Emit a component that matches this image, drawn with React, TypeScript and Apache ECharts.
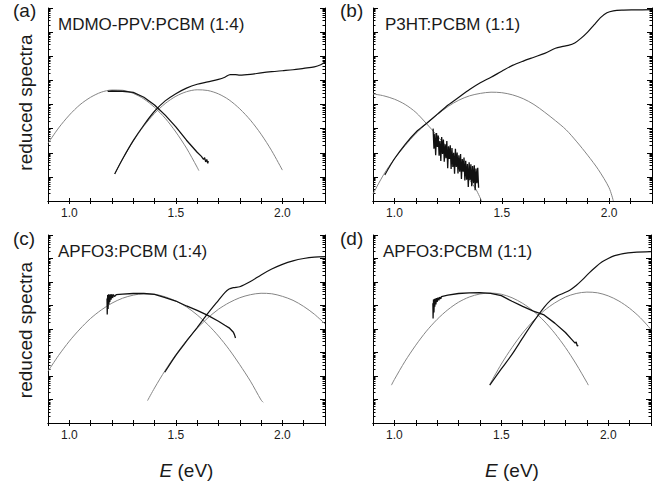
import React, { useEffect, useRef } from "react";
import * as echarts from "echarts";

// ---------- axis tick values ----------
const xTickValues = [0.9, 1.0, 1.1, 1.2, 1.3, 1.4, 1.5, 1.6, 1.7, 1.8, 1.9, 2.0, 2.1, 2.2];
const xLabelValues = [1.0, 1.5, 2.0];
const decadeValues = [0, 1, 2, 3, 4, 5, 6, 7, 8];

// ---------- data: [E (eV), log10(reduced spectrum)] ----------
// (a) MDMO-PPV:PCBM (1:4)
const aGrayL = [[0.9, 2.39], [0.95, 3.03], [1.0, 3.56], [1.05, 3.99], [1.1, 4.3], [1.15, 4.51], [1.2, 4.6], [1.25, 4.59], [1.3, 4.46], [1.35, 4.23], [1.4, 3.88], [1.45, 3.43], [1.5, 2.86], [1.55, 2.19], [1.6, 1.4], [1.608, 1.26]];
const aGrayR = [[1.213, 1.12], [1.25, 1.74], [1.3, 2.48], [1.35, 3.11], [1.4, 3.63], [1.45, 4.04], [1.5, 4.34], [1.55, 4.53], [1.6, 4.61], [1.65, 4.58], [1.7, 4.44], [1.75, 4.19], [1.8, 3.82], [1.85, 3.35], [1.9, 2.77], [1.95, 2.08], [2.0, 1.28]];
const aAbs = [[1.213, 1.12], [1.25, 1.74], [1.3, 2.5], [1.35, 3.15], [1.4, 3.72], [1.45, 4.15], [1.5, 4.45], [1.55, 4.68], [1.6, 4.84], [1.65, 4.94], [1.7, 5.04], [1.73, 5.13], [1.755, 5.24], [1.78, 5.24], [1.8, 5.22], [1.85, 5.25], [1.9, 5.31], [1.95, 5.36], [2.0, 5.4], [2.05, 5.44], [2.1, 5.5], [2.15, 5.56], [2.18, 5.65], [2.2, 5.76]];
const aPL = [[1.18, 4.54], [1.2, 4.56], [1.25, 4.55], [1.3, 4.5], [1.35, 4.3], [1.4, 3.98], [1.45, 3.56], [1.5, 3.07], [1.55, 2.52], [1.6, 2.02], [1.62, 1.85], [1.63, 1.72], [1.635, 1.8], [1.64, 1.62], [1.645, 1.72], [1.65, 1.56], [1.652, 1.66]];

// (b) P3HT:PCBM (1:1)
const bGrayL = [[0.9, 4.44], [0.95, 4.36], [1.0, 4.22], [1.05, 4.0], [1.1, 3.67], [1.15, 3.2], [1.2, 2.7], [1.25, 2.17], [1.3, 1.55], [1.35, 0.88], [1.38, 0.48], [1.406, 0.0]];
const bGrayR = [[0.9, 0.29], [0.95, 1.1], [1.0, 1.75], [1.05, 2.3], [1.1, 2.8], [1.15, 3.21], [1.2, 3.58], [1.25, 3.92], [1.3, 4.18], [1.35, 4.36], [1.4, 4.46], [1.45, 4.51], [1.5, 4.49], [1.55, 4.4], [1.6, 4.24], [1.65, 4.0], [1.7, 3.68], [1.75, 3.33], [1.8, 2.95], [1.85, 2.45], [1.9, 1.9], [1.95, 1.3], [2.0, 0.55], [2.02, 0.0]];
const bAbs = [[0.955, 1.08], [1.0, 1.75], [1.05, 2.35], [1.1, 2.85], [1.15, 3.22], [1.2, 3.6], [1.25, 3.98], [1.3, 4.3], [1.35, 4.62], [1.4, 4.9], [1.45, 5.13], [1.5, 5.38], [1.55, 5.62], [1.6, 5.8], [1.65, 5.96], [1.7, 6.12], [1.75, 6.33], [1.78, 6.4], [1.81, 6.45], [1.84, 6.55], [1.87, 6.75], [1.9, 7.0], [1.93, 7.3], [1.96, 7.6], [1.99, 7.8], [2.02, 7.88], [2.06, 7.91], [2.12, 7.92], [2.2, 7.93]];
const bPL = [[1.18, 3.0], [1.184, 2.17], [1.188, 2.79], [1.192, 1.9], [1.196, 2.82], [1.2, 2.24], [1.204, 2.71], [1.208, 1.88], [1.212, 2.49], [1.216, 1.66], [1.22, 2.65], [1.224, 1.95], [1.228, 2.55], [1.232, 1.63], [1.236, 2.35], [1.24, 1.77], [1.244, 2.49], [1.248, 1.36], [1.252, 2.27], [1.256, 1.74], [1.26, 2.31], [1.264, 1.33], [1.268, 2.2], [1.272, 1.41], [1.276, 2.0], [1.28, 1.13], [1.284, 2.16], [1.288, 1.41], [1.292, 2.01], [1.296, 1.14], [1.3, 1.89], [1.304, 1.21], [1.308, 1.95], [1.312, 0.91], [1.316, 1.74], [1.32, 1.21], [1.324, 1.8], [1.328, 0.85], [1.332, 1.67], [1.336, 0.88], [1.34, 1.53], [1.344, 0.58], [1.348, 1.61], [1.352, 0.87], [1.356, 1.52], [1.36, 0.61], [1.364, 1.45], [1.368, 0.74], [1.372, 1.48], [1.376, 0.45], [1.38, 1.35], [1.384, 0.74], [1.388, 1.38], [1.392, 0.55]];

// (c) APFO3:PCBM (1:4)
const cGrayL = [[0.9, 2.2], [0.95, 2.88], [1.0, 3.48], [1.05, 4.0], [1.1, 4.45], [1.15, 4.81], [1.2, 5.1], [1.25, 5.31], [1.3, 5.44], [1.35, 5.5], [1.4, 5.48], [1.45, 5.37], [1.5, 5.19], [1.55, 4.94], [1.6, 4.6], [1.65, 4.19], [1.7, 3.7], [1.75, 3.13], [1.8, 2.48], [1.85, 1.78], [1.9, 0.98], [1.91, 0.88]];
const cGrayR = [[1.367, 0.95], [1.4, 1.49], [1.45, 2.24], [1.5, 2.91], [1.55, 3.51], [1.6, 4.03], [1.65, 4.47], [1.7, 4.84], [1.75, 5.12], [1.8, 5.33], [1.85, 5.46], [1.9, 5.52], [1.95, 5.5], [2.0, 5.39], [2.05, 5.22], [2.1, 4.96], [2.15, 4.63], [2.2, 4.22]];
const cAbs = [[1.448, 2.16], [1.5, 2.88], [1.55, 3.48], [1.6, 4.06], [1.65, 4.66], [1.7, 5.22], [1.73, 5.55], [1.75, 5.7], [1.77, 5.76], [1.8, 5.8], [1.85, 6.02], [1.9, 6.3], [1.95, 6.55], [2.0, 6.75], [2.05, 6.9], [2.1, 7.0], [2.15, 7.06], [2.2, 7.08]];
const cPL = [[1.177, 5.3], [1.178, 4.62], [1.18, 5.45], [1.182, 4.85], [1.184, 5.48], [1.186, 5.05], [1.188, 5.47], [1.19, 5.15], [1.193, 5.48], [1.196, 5.25], [1.199, 5.48], [1.203, 5.32], [1.207, 5.47], [1.212, 5.38], [1.22, 5.46], [1.25, 5.48], [1.3, 5.51], [1.35, 5.51], [1.4, 5.47], [1.45, 5.34], [1.5, 5.19], [1.55, 4.98], [1.6, 4.79], [1.65, 4.58], [1.7, 4.33], [1.73, 4.16], [1.75, 4.05], [1.76, 3.96], [1.77, 3.86], [1.775, 3.76], [1.78, 3.62]];

// (d) APFO3:PCBM (1:1)
const dGrayL = [[0.986, 1.61], [1.0, 1.85], [1.05, 2.63], [1.1, 3.31], [1.15, 3.91], [1.2, 4.41], [1.25, 4.82], [1.3, 5.14], [1.35, 5.36], [1.4, 5.49], [1.45, 5.53], [1.5, 5.48], [1.55, 5.33], [1.6, 5.09], [1.65, 4.76], [1.7, 4.34], [1.75, 3.82], [1.8, 3.21], [1.85, 2.51], [1.9, 1.73], [1.907, 1.61]];
const dGrayR = [[1.446, 1.64], [1.5, 2.51], [1.55, 3.21], [1.6, 3.83], [1.65, 4.35], [1.7, 4.78], [1.75, 5.11], [1.8, 5.36], [1.85, 5.51], [1.9, 5.57], [1.95, 5.54], [2.0, 5.41], [2.05, 5.19], [2.1, 4.88], [2.15, 4.48], [2.2, 3.98]];
const dAbs = [[1.446, 1.61], [1.5, 2.3], [1.55, 2.92], [1.6, 3.62], [1.65, 4.3], [1.7, 4.92], [1.73, 5.22], [1.76, 5.4], [1.79, 5.52], [1.82, 5.65], [1.85, 5.85], [1.88, 6.1], [1.91, 6.38], [1.94, 6.63], [1.97, 6.85], [2.0, 7.0], [2.03, 7.12], [2.07, 7.21], [2.12, 7.26], [2.2, 7.29]];
const dPL = [[1.18, 5.1], [1.181, 4.45], [1.183, 5.25], [1.185, 4.7], [1.187, 5.28], [1.189, 4.95], [1.191, 5.3], [1.194, 5.05], [1.197, 5.32], [1.2, 5.15], [1.204, 5.34], [1.208, 5.22], [1.212, 5.36], [1.217, 5.28], [1.22, 5.38], [1.25, 5.44], [1.3, 5.51], [1.35, 5.54], [1.4, 5.55], [1.45, 5.52], [1.5, 5.42], [1.55, 5.18], [1.6, 4.96], [1.65, 4.76], [1.7, 4.6], [1.75, 4.25], [1.8, 3.85], [1.83, 3.55], [1.845, 3.4], [1.85, 3.45], [1.855, 3.28], [1.86, 3.3]];

const FONT = "'Liberation Sans', Arial, Helvetica, sans-serif";
const BLACK = "#111111";
const GRAY = "#858585";

const panels = [
  { grid: { left: 48, top: 8, width: 277, height: 193 }, letter: "(a)", letterPos: [13, 10], title: "MDMO-PPV:PCBM (1:4)", titlePos: [58, 24], yLabel: true, xName: false, grayL: aGrayL, grayR: aGrayR, abs: aAbs, pl: aPL },
  { grid: { left: 373, top: 8, width: 279, height: 193 }, letter: "(b)", letterPos: [340, 10], title: "P3HT:PCBM (1:1)", titlePos: [385, 24], yLabel: false, xName: false, grayL: bGrayL, grayR: bGrayR, abs: bAbs, pl: bPL },
  { grid: { left: 48, top: 235, width: 277, height: 194 }, letter: "(c)", letterPos: [13, 238], title: "APFO3:PCBM (1:4)", titlePos: [58, 251], yLabel: true, xName: true, grayL: cGrayL, grayR: cGrayR, abs: cAbs, pl: cPL },
  { grid: { left: 373, top: 235, width: 278, height: 194 }, letter: "(d)", letterPos: [340, 238], title: "APFO3:PCBM (1:1)", titlePos: [383, 251], yLabel: false, xName: true, grayL: dGrayL, grayR: dGrayR, abs: dAbs, pl: dPL },
];

const toData = (arr: number[][]) => arr.map(([e, lg]) => [e, Math.pow(10, lg)]);

function buildOption() {
  const minorValues: number[] = [];
  for (let n = 0; n < 8; n++) for (let k = 2; k <= 9; k++) minorValues.push(n + Math.log10(k));

  const grid: any[] = [];
  const xAxis: any[] = [];
  const yAxis: any[] = [];
  const series: any[] = [];
  const graphic: any[] = [];
  const lineStyle = { color: "#000", width: 1 };

  panels.forEach((p, i) => {
    grid.push({ ...p.grid });
    xAxis.push({
      type: "value", gridIndex: i, position: "bottom", min: 0.9, max: 2.2,
      axisLine: { show: true, lineStyle },
      axisTick: { show: true, inside: true, length: 3, customValues: xTickValues, lineStyle },
      axisLabel: { show: true, customValues: xLabelValues, margin: 6, fontSize: 12, fontFamily: FONT, color: "#1a1a1a", formatter: (v: number) => v.toFixed(1) },
      splitLine: { show: false },
      name: p.xName ? "{i|E} (eV)" : "",
      nameLocation: "middle", nameGap: 38,
      nameTextStyle: { fontSize: 19, fontFamily: FONT, color: "#1a1a1a", rich: { i: { fontStyle: "italic", fontSize: 19, fontFamily: FONT, color: "#1a1a1a" } } },
    });
    xAxis.push({
      type: "value", gridIndex: i, position: "top", min: 0.9, max: 2.2,
      axisLine: { show: true, lineStyle },
      axisTick: { show: true, inside: true, length: 3, customValues: xTickValues, lineStyle },
      axisLabel: { show: false }, splitLine: { show: false },
    });
    // data log axis
    yAxis.push({ type: "log", logBase: 10, gridIndex: i, min: 1, max: 1e8, show: false });
    // frame / tick overlays in decades
    const tickAxis = (pos: string, vals: number[], len: number, line: boolean) => ({
      type: "value", gridIndex: i, position: pos, min: 0, max: 8,
      axisLine: { show: line, lineStyle },
      axisTick: { show: true, inside: true, length: len, customValues: vals, lineStyle },
      axisLabel: { show: false }, splitLine: { show: false },
    });
    yAxis.push(tickAxis("left", decadeValues, 5, true));
    yAxis.push(tickAxis("left", minorValues, 2.5, false));
    yAxis.push(tickAxis("right", decadeValues, 5, true));
    yAxis.push(tickAxis("right", minorValues, 2.5, false));

    const mk = (data: number[][], color: string, width: number, smooth: number | boolean) => ({
      type: "line", xAxisIndex: 2 * i, yAxisIndex: 5 * i, data: toData(data),
      showSymbol: false, symbol: "none", smooth, lineStyle: { color, width }, silent: true,
    });
    series.push(mk(p.grayL, GRAY, 1, 0.3));
    series.push(mk(p.grayR, GRAY, 1, 0.3));
    series.push(mk(p.abs, BLACK, 1.2, 0.3));
    series.push(mk(p.pl, BLACK, 1.3, false));

    graphic.push({ type: "text", x: p.letterPos[0], y: p.letterPos[1], style: { text: p.letter, fontSize: 19, fontFamily: FONT, fill: "#1a1a1a", align: "left", verticalAlign: "middle", textAlign: "left", textVerticalAlign: "middle" } });
    graphic.push({ type: "text", x: p.titlePos[0], y: p.titlePos[1], style: { text: p.title, fontSize: 17, fontFamily: FONT, fill: "#1a1a1a", align: "left", verticalAlign: "middle", textAlign: "left", textVerticalAlign: "middle" } });
    if (p.yLabel) {
      graphic.push({ type: "text", x: 25, y: p.grid.top + p.grid.height / 2 - 2, rotation: Math.PI / 2, style: { text: "reduced spectra", fontSize: 19, fontFamily: FONT, fill: "#1a1a1a", align: "center", verticalAlign: "middle", textAlign: "center", textVerticalAlign: "middle" } });
    }
  });

  return { animation: false, backgroundColor: "#ffffff", grid, xAxis, yAxis, series, graphic };
}

export default function App() {
  const ref = useRef<HTMLDivElement>(null);
  useEffect(() => {
    if (!ref.current) return;
    const chart = echarts.init(ref.current, undefined, { renderer: "svg" });
    chart.setOption(buildOption() as any);
    return () => chart.dispose();
  }, []);
  return <div ref={ref} style={{ position: "absolute", left: 0, top: 0, width: 669, height: 481, background: "#fff" }} />;
}
